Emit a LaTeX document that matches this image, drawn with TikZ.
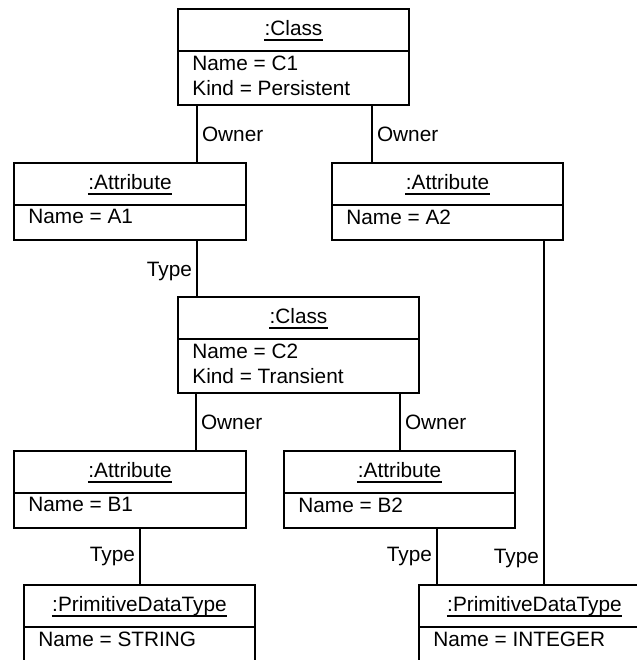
\documentclass[tikz,border=0pt]{standalone}
\usepackage{fontspec}
\setmainfont{Liberation Sans}
\usetikzlibrary{positioning, calc}
\tikzset{
    umlFrame/.style={
        rectangle,
        draw,
        line width=1pt,
        anchor=north west,
        inner sep=0pt
    },
    umlTitle/.style={anchor=base, inner sep=0pt},
    umlSlot/.style={anchor=north west, inner sep=0pt, align=left},
    umlUnder/.style={line width=0.7pt},
    % Links
    umlLink/.style={draw, line width=1pt},
    umlRole/.style={inner sep=2pt}
}
% object box: name, x, y, width, height, class, slots
\newcommand{\umlObject}[7]{%
  \node[umlFrame, minimum width=#4*0.5pt, minimum height=#5*0.5pt] (#1) at (#2,#3) {};
  \draw[line width=1pt] ([yshift=-21.5pt]#1.north west) -- ([yshift=-21.5pt]#1.north east);
  \node[umlTitle] (#1_title) at ([yshift=-13.5pt]#1.north) {#6};
  \draw[umlUnder] ([yshift=-2.5pt]#1_title.base west) -- ([yshift=-2.5pt]#1_title.base east);
  \node[umlSlot] (#1_slots) at ([xshift=7.5pt, yshift=-23.6pt]#1.north west) {#7};
}

\begin{document}
\begin{tikzpicture}[
  x=0.5pt, y=-0.5pt,
  every node/.style={font=\fontsize{10.4}{12.5}\selectfont}
]
\useasboundingbox (0,0) rectangle (637,660);
\clip (0,0) rectangle (637,660);

\umlObject{cls_c1}{177}{8}{231}{96}{:Class}{Name = C1\\Kind = Persistent}
\umlObject{attr_a1}{13}{162}{232}{77}{:Attribute}{Name = A1}
\umlObject{attr_a2}{331}{162}{231}{77}{:Attribute}{Name = A2}
\umlObject{cls_c2}{177}{296}{241}{96}{:Class}{Name = C2\\Kind = Transient}
\umlObject{attr_b1}{13}{450}{232}{77}{:Attribute}{Name = B1}
\umlObject{attr_b2}{283}{450}{231}{77}{:Attribute}{Name = B2}
\umlObject{prim_str}{23}{584}{231}{77}{:PrimitiveDataType}{Name = STRING}
\umlObject{prim_int}{418}{584}{231}{77}{:PrimitiveDataType}{Name = INTEGER}

\draw[umlLink] ([xshift=10pt]cls_c1.south west) -- ([xshift=10pt]cls_c1.south west |- attr_a1.north) node[midway, right, umlRole] {Owner};
\draw[umlLink] ([xshift=-19pt]cls_c1.south east) -- ([xshift=-19pt]cls_c1.south east |- attr_a2.north) node[midway, right, umlRole] {Owner};
\draw[umlLink] ([xshift=10pt]cls_c2.north west |- attr_a1.south) -- ([xshift=10pt]cls_c2.north west) node[midway, left, umlRole, yshift=-1.5pt] {Type};
\draw[umlLink] ([xshift=-10pt]attr_a2.south east) -- ([xshift=-10pt]attr_a2.south east |- prim_int.north) node[pos=0.925, left, umlRole] {Type};
\draw[umlLink] ([xshift=9.5pt]cls_c2.south west) -- ([xshift=9.5pt]cls_c2.south west |- attr_b1.north) node[midway, right, umlRole] {Owner};
\draw[umlLink] ([xshift=-10pt]cls_c2.south east) -- ([xshift=-10pt]cls_c2.south east |- attr_b2.north) node[midway, right, umlRole] {Owner};
\draw[umlLink] ([xshift=5pt]attr_b1.south) -- ([xshift=5pt]attr_b1.south |- prim_str.north) node[midway, left, umlRole] {Type};
\draw[umlLink] ([xshift=9.5pt]prim_int.north west |- attr_b2.south) -- ([xshift=9.5pt]prim_int.north west) node[midway, left, umlRole] {Type};
\end{tikzpicture}
\end{document}
